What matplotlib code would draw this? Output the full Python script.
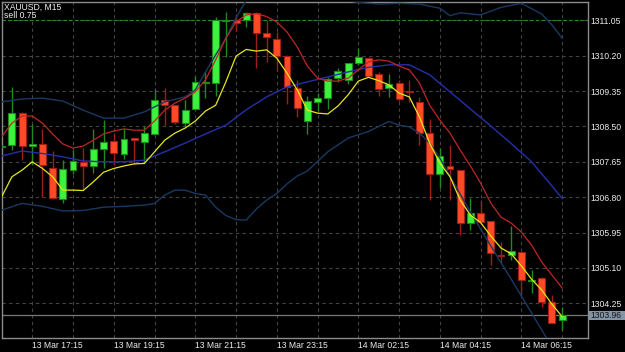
import matplotlib
matplotlib.use('Agg')
import matplotlib.pyplot as plt
import numpy as np
from matplotlib.patches import Rectangle

# ---------------- data ----------------
symbol_text = "XAUUSD, M15"
order_text = "sell 0.75"
order_price = 1311.05
bid_price = 1303.96

opens = [1308.01, 1308.05, 1308.83, 1308.04, 1308.07, 1307.49, 1306.76, 1307.45, 1307.65, 1307.55,
         1307.95, 1308.16, 1307.83, 1308.23, 1308.13, 1308.32, 1309.14, 1309.01, 1308.59, 1308.91,
         1309.54, 1309.54, 1311.03, 1311.06, 1311.06, 1311.23, 1310.74, 1310.60, 1310.20, 1309.42,
         1308.64, 1309.09, 1309.18, 1309.66, 1309.61, 1310.03, 1310.14, 1309.77, 1309.42, 1309.54,
         1309.35, 1309.09, 1308.35, 1307.36, 1307.55, 1307.45, 1306.17, 1306.43, 1306.23, 1305.40,
         1305.40, 1305.48, 1304.79, 1304.85, 1304.27, 1303.84]
highs = [1308.06, 1309.44, 1308.85, 1308.56, 1308.43, 1307.92, 1307.69, 1307.93, 1307.99, 1308.43,
         1308.65, 1308.35, 1308.43, 1308.24, 1308.51, 1309.39, 1309.42, 1309.01, 1309.14, 1309.70,
         1309.81, 1311.14, 1311.26, 1311.20, 1311.24, 1311.26, 1311.06, 1310.78, 1310.22, 1309.62,
         1309.23, 1309.30, 1309.69, 1309.90, 1310.03, 1310.38, 1310.18, 1309.81, 1309.77, 1309.62,
         1309.62, 1309.21, 1308.68, 1307.97, 1308.05, 1307.45, 1306.77, 1306.73, 1306.23, 1305.73,
         1306.11, 1305.48, 1305.05, 1304.89, 1304.45, 1304.15]
lows = [1308.00, 1307.93, 1307.69, 1307.57, 1306.80, 1306.75, 1306.67, 1307.36, 1307.00, 1307.38,
        1307.50, 1307.57, 1307.71, 1307.60, 1307.61, 1308.32, 1308.50, 1308.56, 1308.51, 1308.91,
        1309.18, 1309.23, 1310.18, 1310.79, 1310.88, 1309.90, 1310.04, 1309.82, 1309.04, 1308.72,
        1308.32, 1308.87, 1308.92, 1309.56, 1309.52, 1309.98, 1309.71, 1309.24, 1309.21, 1309.11,
        1309.09, 1308.05, 1306.73, 1307.01, 1306.73, 1305.89, 1306.01, 1306.20, 1305.17, 1305.21,
        1305.29, 1304.44, 1304.51, 1304.16, 1303.78, 1303.61]
closes = [1308.04, 1308.82, 1308.04, 1308.07, 1307.58, 1306.77, 1307.48, 1307.68, 1307.55, 1307.96,
          1308.12, 1307.87, 1308.20, 1308.17, 1308.34, 1309.14, 1309.01, 1308.61, 1308.89, 1309.56,
          1309.56, 1311.06, 1311.06, 1310.99, 1311.23, 1310.74, 1310.64, 1310.20, 1309.45, 1308.95,
          1309.12, 1309.19, 1309.64, 1309.83, 1310.03, 1310.16, 1309.72, 1309.40, 1309.51, 1309.16,
          1309.33, 1308.35, 1307.36, 1307.80, 1307.47, 1306.18, 1306.43, 1306.21, 1305.45, 1305.39,
          1305.51, 1304.80, 1304.80, 1304.27, 1303.78, 1303.96]

# fast moving average (yellow), one value per bar
ma_fast = [1306.81, 1307.29, 1307.45, 1307.65, 1307.49, 1307.29, 1306.97, 1306.97, 1306.96, 1307.17,
           1307.40, 1307.49, 1307.55, 1307.60, 1307.61, 1307.89, 1308.17, 1308.34, 1308.46, 1308.63,
           1308.87, 1309.01, 1309.57, 1310.19, 1310.35, 1310.31, 1310.34, 1310.14, 1309.78, 1309.38,
           1308.89, 1308.82, 1308.80, 1308.99, 1309.26, 1309.59, 1309.68, 1309.60, 1309.50, 1309.30,
           1309.21, 1308.73, 1308.10, 1307.62, 1307.29, 1306.73, 1306.37, 1306.19, 1305.87, 1305.58,
           1305.44, 1305.15, 1304.83, 1304.57, 1304.23, 1303.93]
# slower moving average (red), one value per bar
ma_slow = [1308.25, 1308.58, 1308.75, 1308.75, 1308.58, 1308.32, 1308.08, 1307.98, 1308.03, 1308.17,
           1308.32, 1308.39, 1308.44, 1308.41, 1308.41, 1308.63, 1308.89, 1309.06, 1309.18, 1309.33,
           1309.62, 1310.10, 1310.62, 1311.01, 1311.18, 1311.21, 1311.14, 1311.01, 1310.77, 1310.41,
           1309.95, 1309.66, 1309.59, 1309.59, 1309.66, 1309.86, 1310.05, 1310.10, 1310.07, 1309.95,
           1309.86, 1309.54, 1309.01, 1308.65, 1308.34, 1307.93, 1307.55, 1307.14, 1306.66, 1306.32,
           1306.18, 1305.96, 1305.65, 1305.24, 1304.93, 1304.62]

# Bollinger middle line (blue), read at these bars
bb_mid_bars = [0, 2, 4, 6, 8, 10, 12, 14, 16, 18, 20, 22, 24, 26, 28, 30, 32, 34, 36, 38,
               40, 42, 44, 46, 48, 50, 52, 54, 55]
bb_mid = [1307.79, 1307.91, 1307.85, 1307.77, 1307.67, 1307.65, 1307.65, 1307.69, 1307.89, 1308.10,
          1308.32, 1308.53, 1308.90, 1309.21, 1309.45, 1309.57, 1309.69, 1309.81, 1309.92, 1309.98,
          1309.98, 1309.74, 1309.33, 1308.92, 1308.51, 1308.09, 1307.65, 1307.07, 1306.77]

# Bollinger upper band
bb_up_bars = [0, 2, 4, 6, 8, 10, 12, 14, 16, 18, 19, 20, 21, 22, 23, 24, 25, 27, 29, 31,
              33, 35, 37, 39, 41, 43, 44, 45, 47, 49, 51, 53, 54, 55]
bb_up = [1309.09, 1309.16, 1309.18, 1309.11, 1308.89, 1308.70, 1308.70, 1308.85, 1309.09, 1309.21,
         1309.38, 1309.81, 1310.22, 1310.62, 1311.11, 1311.54, 1311.85, 1312.05, 1312.10, 1311.95,
         1311.56, 1311.48, 1311.44, 1311.46, 1311.44, 1311.34, 1311.16, 1311.23, 1311.18, 1311.36,
         1311.46, 1311.20, 1310.94, 1310.62]

# Bollinger lower band
bb_lo_bars = [0, 2, 4, 6, 8, 10, 12, 14, 15, 16, 17, 18, 19, 20, 21, 22, 23, 24, 25, 26,
              27, 28, 29, 30, 32, 34, 36, 38, 39, 40, 41, 42, 43, 44, 46, 48, 50, 52, 54]
bb_lo = [1306.49, 1306.65, 1306.58, 1306.47, 1306.48, 1306.56, 1306.58, 1306.61, 1306.65, 1306.85,
         1306.97, 1306.97, 1306.89, 1306.85, 1306.56, 1306.36, 1306.26, 1306.25, 1306.52, 1306.73,
         1306.89, 1307.12, 1307.31, 1307.43, 1307.89, 1308.22, 1308.38, 1308.62, 1308.53, 1308.49,
         1308.34, 1308.10, 1307.74, 1307.31, 1306.44, 1305.63, 1304.83, 1304.02, 1303.20]

price_ticks = [1311.05, 1310.20, 1309.35, 1308.50, 1307.65, 1306.80, 1305.95, 1305.10, 1304.25]
time_grid_bars = [3, 7, 11, 15, 19, 23, 27, 31, 35, 39, 43, 47, 51, 55]
time_labels = ["13 Mar 17:15", "", "13 Mar 19:15", "", "13 Mar 21:15", "", "13 Mar 23:15", "",
               "14 Mar 02:15", "", "14 Mar 04:15", "", "14 Mar 06:15", ""]

# ---------------- styling ----------------
W, H = 625, 352
FONT = ['Liberation Sans', 'DejaVu Sans']
plt.rcParams['font.family'] = FONT
FS = 6.2

bull_fill, bull_edge = '#3cf23c', '#1e8a1e'
bear_fill, bear_edge = '#ff4a26', '#a01e18'

fig = plt.figure(figsize=(W / 100, H / 100), dpi=100, facecolor='black')
ax_left, ax_right, ax_top, ax_bot = 1.7, 588.3, 1.7, 337.7
ax = fig.add_axes([ax_left / W, (H - ax_bot) / H, (ax_right - ax_left) / W, (ax_bot - ax_top) / H])
ax.set_facecolor('black')
ax.set_xlim(0, 57.57)
ax.set_ylim(1303.424, 1311.497)

# grid
ax.set_yticks(price_ticks)
ax.set_yticklabels([f"{p:.2f}" for p in price_ticks])
ax.set_xticks(time_grid_bars)
ax.set_xticklabels(time_labels, ha='left')
ax.grid(True, color='#444444', linestyle=(0, (3, 3)), linewidth=0.8, zorder=0)
ax.set_axisbelow(True)
ax.yaxis.tick_right()
ax.tick_params(axis='y', length=0, pad=1.8, labelsize=FS, labelcolor='#ececec')
ax.tick_params(axis='x', length=0, pad=2.2, labelsize=FS, labelcolor='#ececec')
for s in ax.spines.values():
    s.set_color('#8a8a8a')
    s.set_linewidth(1.0)

# order line and bid line
ax.axhline(order_price, color='#2a8a2a', linestyle=(0, (3, 2)), linewidth=0.8, zorder=1)
ax.axhline(bid_price, color='#7a7a7a', linewidth=0.9, zorder=1)

# candles
x = np.arange(len(opens))
o = np.array(opens); c = np.array(closes); hi = np.array(highs); lo = np.array(lows)
up = c >= o
wick_cols = [bull_edge if u else bear_edge for u in up]
ax.vlines(x, lo, hi, colors=wick_cols, linewidth=1.0, zorder=3)
body_bottom = np.minimum(o, c)
body_h = np.maximum(np.abs(c - o), 0.03)
ax.bar(x, body_h, bottom=body_bottom, width=0.68,
       color=[bull_fill if u else bear_fill for u in up],
       edgecolor=[bull_edge if u else bear_edge for u in up], linewidth=0.8, zorder=4)

# indicators
ax.plot(bb_up_bars, bb_up, color='#1a3960', linewidth=1.0, zorder=5)
ax.plot(bb_lo_bars, bb_lo, color='#1a3960', linewidth=1.0, zorder=5)
ax.plot(bb_mid_bars, bb_mid, color='#2530a8', linewidth=1.0, zorder=5)
ax.plot(x, ma_slow, color='#bf2626', linewidth=0.9, zorder=6)
ax.plot(x, ma_fast, color='#e6e619', linewidth=0.9, zorder=7)

# top-left texts (one two-line block, tight line spacing as in the terminal)
fig.text(4 / W, 1 - 2.6 / H, symbol_text + "\n" + order_text, color='#f0f0f0', fontsize=FS,
         va='top', ha='left', linespacing=0.92)

# bid price label box
yb = (H - 315.6) / H
fig.patches.append(Rectangle((589 / W, (H - 319.8) / H), 36 / W, 8.4 / H,
                             transform=fig.transFigure, facecolor='#8396a8', edgecolor='none', zorder=10))
fig.text(590.7 / W, yb, f"{bid_price:.2f}", color='#111111', fontsize=FS, va='center', ha='left', zorder=11)

fig.savefig('out.png', dpi=100, facecolor='black')
